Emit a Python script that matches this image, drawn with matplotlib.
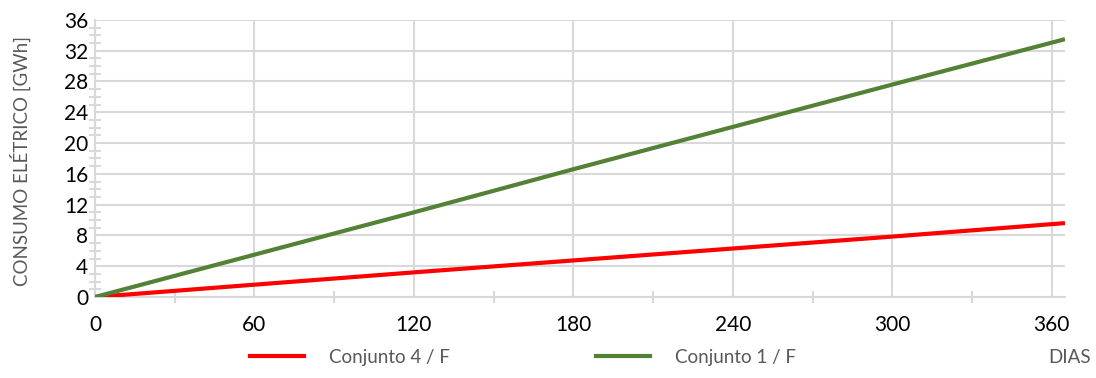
import matplotlib.pyplot as plt
from matplotlib.ticker import MultipleLocator
from matplotlib.lines import Line2D

plt.rcParams['font.family'] = ['Lato', 'DejaVu Sans']

# leituras aproximadas do grafico original
dias = [0, 60, 120, 180, 240, 300, 365]
conj4 = [0, 1.6, 3.2, 4.75, 6.3, 7.85, 9.6]
conj1 = [0, 5.5, 11.0, 16.6, 22.1, 27.6, 33.5]
rotulos = ['Conjunto 4 / F', 'Conjunto 1 / F']
cores = ['#ff0000', '#538135']

fig = plt.figure(figsize=(10.96, 3.78), dpi=100)
ax = fig.add_axes([0.0867, 0.2143, 0.885, 0.733])

ax.plot(dias, conj4, color=cores[0], lw=3, solid_capstyle='butt', zorder=3)
ax.plot(dias, conj1, color=cores[1], lw=3, solid_capstyle='butt', zorder=3)

ax.set_xlim(0, 365)
ax.set_ylim(0, 36)
ax.xaxis.set_major_locator(MultipleLocator(60))
ax.xaxis.set_minor_locator(MultipleLocator(30))
ax.yaxis.set_major_locator(MultipleLocator(4))
ax.yaxis.set_minor_locator(MultipleLocator(1))

ax.grid(True, which='major', color='#d9d9d9', lw=1.5, zorder=0)
for s in ['top', 'right']:
    ax.spines[s].set_visible(False)
for s in ['left', 'bottom']:
    ax.spines[s].set_color('#d9d9d9')
    ax.spines[s].set_linewidth(1.5)

ax.tick_params(axis='both', which='major', length=0, labelsize=15, colors='black')
ax.tick_params(axis='x', which='major', pad=13)
ax.tick_params(axis='y', which='major', pad=5)
ax.tick_params(axis='both', which='minor', direction='inout', length=8, width=1.5, color='#d9d9d9')

ax.set_ylabel('CONSUMO ELÉTRICO [GWh]', fontsize=13.5, color='#595959')
ax.yaxis.set_label_coords(-0.066, 0.49)
fig.text(0.995, 0.055, 'DIAS', fontsize=13.5, color='#595959', ha='right', va='center')

handles = [Line2D([], [], color=c, lw=3) for c in cores]
fig.legend(handles, rotulos, loc='center', bbox_to_anchor=(0.477, 0.055), ncol=2,
           frameon=False, fontsize=13.5, labelcolor='#595959', handlelength=2.9,
           columnspacing=7.8, handletextpad=1.3)

fig.savefig('out.png', dpi=100)
